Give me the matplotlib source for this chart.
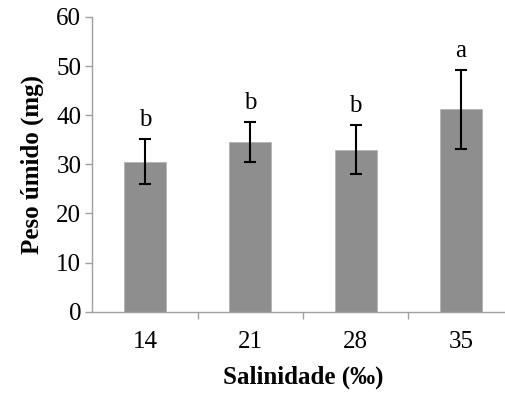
import matplotlib
matplotlib.use('Agg')
import matplotlib.pyplot as plt
import numpy as np

salinidade = ['14', '21', '28', '35']
peso = [30.5, 34.5, 33.0, 41.2]
erro = [4.6, 4.1, 4.9, 8.0]
letras = ['b', 'b', 'b', 'a']

plt.rcParams['font.family'] = ['Liberation Serif', 'DejaVu Serif']

fig = plt.figure(figsize=(5.05, 3.93), dpi=100)
ax = fig.add_axes([0.183, 0.207, 0.834, 0.75])

x = np.arange(len(salinidade))
ax.bar(x, peso, width=0.4, color='#8e8e8e', edgecolor='#b5b5b5', linewidth=0.6, zorder=2)
ax.errorbar(x, peso, yerr=erro, fmt='none', ecolor='black', elinewidth=1.5,
            capsize=4.5, capthick=1.5, zorder=3)
for i in range(len(x)):
    ax.annotate(letras[i], (x[i], peso[i] + erro[i]), xytext=(0, 6),
                textcoords='offset points', ha='center', va='bottom', fontsize=18)

ax.set_xlim(-0.5, 3.5)
ax.set_ylim(0, 60)
ax.set_yticks(range(0, 61, 10))
ax.set_xticks(x)
ax.set_xticklabels(salinidade)
ax.set_xticks([0.5, 1.5, 2.5], minor=True)
ax.tick_params(axis='x', which='major', length=0, labelsize=18, pad=14)
ax.tick_params(axis='x', which='minor', length=5, color='#a0a0a0', width=1)
ax.tick_params(axis='y', length=5, color='#a0a0a0', width=1, labelsize=18, pad=3)
for s in ['top', 'right']:
    ax.spines[s].set_visible(False)
for s in ['left', 'bottom']:
    ax.spines[s].set_color('#a0a0a0')
    ax.spines[s].set_linewidth(1)

ax.set_xlabel('Salinidade (‰)', fontsize=18, fontweight='bold', labelpad=9)
ax.set_ylabel('Peso úmido (mg)', fontsize=18, fontweight='bold', labelpad=9)

plt.savefig('out.png', dpi=100)
